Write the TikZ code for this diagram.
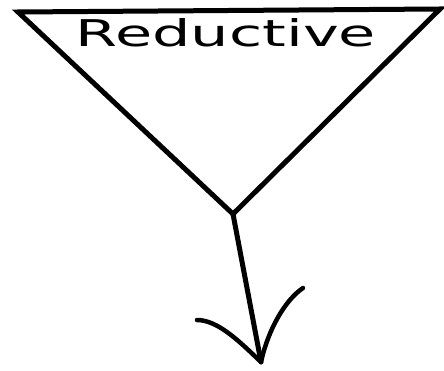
\documentclass[tikz,border=0pt]{standalone}
\usepackage{fontspec}
\setmainfont{DejaVu Sans}
\begin{document}
\begin{tikzpicture}[x=1pt,y=-1pt,
  stroke/.style={line width=5pt, line cap=round, line join=miter, black},
  headline/.style={line width=4.5pt, line cap=round, black},
  label/.style={inner sep=0pt, font=\fontsize{38}{38}\selectfont}]
\useasboundingbox (0,0) rectangle (444,371);
\coordinate (tl) at (18,12);
\coordinate (tr) at (440,9);
\coordinate (apex) at (233,214);
\coordinate (tip) at (261,362);
\coordinate (hl) at (197,320);
\coordinate (hr) at (303,288);
\draw[stroke] (tl) -- (tr) -- (apex) -- cycle;
\node[label] (txt) at (226,33) {\resizebox{300pt}{28pt}{Reductive}};
\draw[stroke] (apex) -- (tip);
\draw[headline] (hl) .. controls (218,320) and (240,342) .. (tip);
\draw[headline] (hr) .. controls (285,300) and (268,330) .. (tip);
\end{tikzpicture}
\end{document}
